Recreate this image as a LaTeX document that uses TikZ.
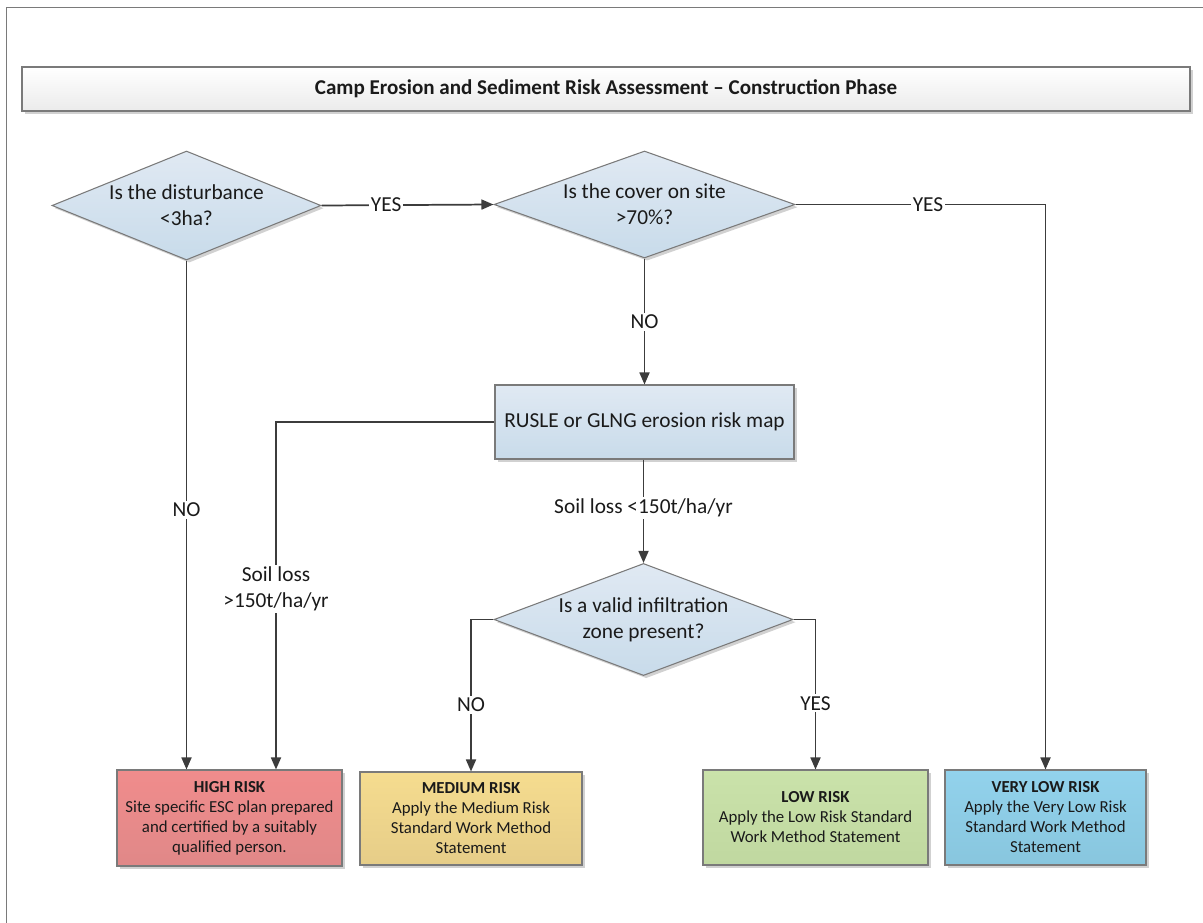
\documentclass[tikz,border=0pt]{standalone}
\usepackage{fontspec}
\setmainfont{Carlito}
\usetikzlibrary{shapes.geometric,shadows,arrows.meta,calc}
\definecolor{edge}{HTML}{7A7A7A}
\definecolor{conn}{HTML}{3C3C3C}
\definecolor{txt}{HTML}{1A1A1A}
\definecolor{bluetop}{HTML}{E0E9F3}
\definecolor{bluebot}{HTML}{C8DBEA}
\definecolor{redtop}{HTML}{F08C8C}
\definecolor{redbot}{HTML}{E08888}
\definecolor{yeltop}{HTML}{F5DC8F}
\definecolor{yelbot}{HTML}{E6CD88}
\definecolor{grntop}{HTML}{CAE2AA}
\definecolor{grnbot}{HTML}{C0D8A0}
\definecolor{cyntop}{HTML}{92D2EC}
\definecolor{cynbot}{HTML}{88C6DE}
\definecolor{tittop}{HTML}{FFFFFF}
\definecolor{titbot}{HTML}{EBEBEB}
\begin{document}
\begin{tikzpicture}[x=0.75pt,y=-0.75pt,
  shade/.style={drop shadow={shadow xshift=2pt,shadow yshift=-2pt,opacity=0.18,fill=black}},
  decision/.style={shape=diamond,draw=edge,line width=0.8pt,top color=bluetop,bottom color=bluebot,
    shape aspect=2.5,inner sep=0pt,align=center,text=txt,
    font=\fontsize{16}{19.5}\selectfont,shade},
  procbox/.style={rectangle,draw=edge,line width=0.8pt,top color=bluetop,bottom color=bluebot,
    align=center,text=txt,font=\fontsize{16}{19.5}\selectfont,shade},
  riskbox/.style={rectangle,draw=edge,line width=0.8pt,align=center,text=txt,
    font=\fontsize{12.6}{15}\selectfont,shade},
  conn/.style={draw=conn,line width=1.3pt,-{Triangle[length=9pt,width=7.5pt]}},
  lbl/.style={fill=white,inner sep=1.5pt,text=txt,font=\fontsize{16}{19.5}\selectfont,align=center}]
\useasboundingbox (0,0) rectangle (1203,922);
% page frame
\draw[edge,line width=0.9pt] (6.5,930) -- (6.5,7.5) -- (1210,7.5);
% title
\node[rectangle,draw=edge,line width=0.8pt,top color=tittop,bottom color=titbot,shade,
  minimum width=1168*0.75pt,minimum height=44*0.75pt,text=txt,
  font=\fontsize{15.8}{19}\selectfont\bfseries] (title) at (606,89)
  {Camp Erosion and Sediment Risk Assessment -- Construction Phase};
% decisions
\node[decision,minimum width=269*0.75pt,minimum height=109*0.75pt] (d1) at (186.5,205.5)
  {Is the disturbance\\ <3ha?};
\node[decision,minimum width=301*0.75pt,minimum height=107*0.75pt] (d2) at (644.5,204.5)
  {Is the cover on site\\ >70\%?};
\node[procbox,minimum width=299*0.75pt,minimum height=74*0.75pt] (rusle) at (644.5,422)
  {RUSLE or GLNG erosion risk map};
\node[decision,minimum width=299*0.75pt,minimum height=105*0.75pt] (d3) at (643.5,619.5)
  {Is a valid infiltration\\ zone present?};
% risk boxes
\node[riskbox,top color=redtop,bottom color=redbot,minimum width=225*0.75pt,minimum height=96*0.75pt] (hr) at (229.5,818)
  {\textbf{HIGH RISK}\\ Site specific ESC plan prepared\\ and certified by a suitably\\ qualified person.};
\node[riskbox,top color=yeltop,bottom color=yelbot,minimum width=222*0.75pt,minimum height=93*0.75pt] (mr) at (471,818.5)
  {\textbf{MEDIUM RISK}\\ Apply the Medium Risk\\ Standard Work Method\\ Statement};
\node[riskbox,top color=grntop,bottom color=grnbot,minimum width=225*0.75pt,minimum height=95*0.75pt] (lr) at (815.5,817.5)
  {\textbf{LOW RISK}\\ Apply the Low Risk Standard\\ Work Method Statement};
\node[riskbox,top color=cyntop,bottom color=cynbot,minimum width=201*0.75pt,minimum height=95*0.75pt] (vl) at (1045.5,817.5)
  {\textbf{VERY LOW RISK}\\ Apply the Very Low Risk\\ Standard Work Method\\ Statement};
% connectors
\draw[conn] (d1.east) -- node[lbl,pos=0.376]{YES} (d2.west);
\draw[conn] (d2.east) -| node[lbl,pos=0.265]{YES} (vl.north);
\draw[conn] (d2.south) -- node[lbl,pos=0.5]{NO} (rusle.north);
\draw[conn] (d1.south) -- node[lbl,pos=0.49]{NO} (d1.south |- hr.north);
\draw[conn] (rusle.west) -| node[lbl,pos=0.74]{Soil loss\\ >150t/ha/yr} ($(hr.north)+(46.5,0)$);
\draw[conn] (rusle.south -| d3.north) -- node[lbl,pos=0.47]{Soil loss <150t/ha/yr} (d3.north);
\draw[conn] (d3.west) -| node[lbl,pos=0.78]{NO} (mr.north);
\draw[conn] (d3.east) -| node[lbl,pos=0.78]{YES} (lr.north);
\end{tikzpicture}
\end{document}
